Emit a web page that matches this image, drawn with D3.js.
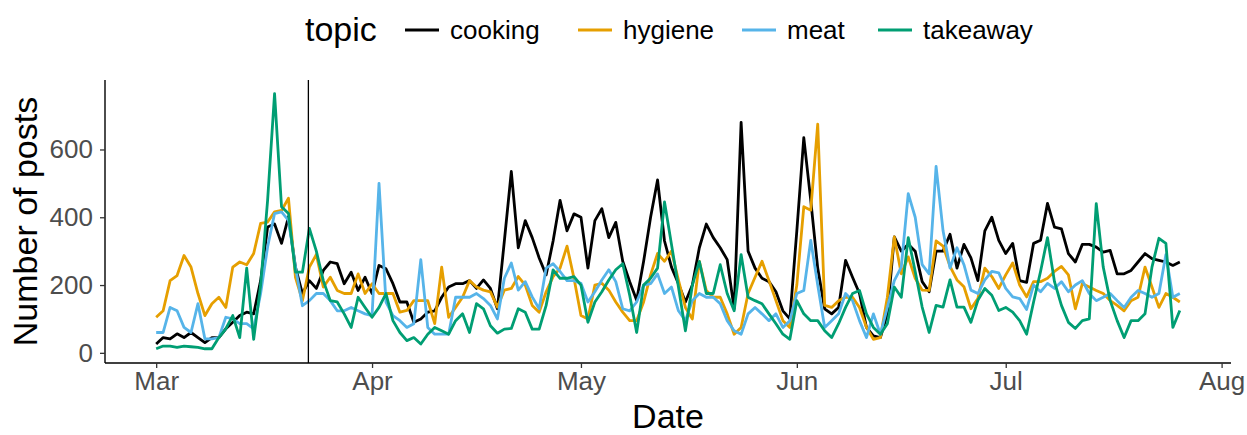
<!DOCTYPE html>
<html><head><meta charset="utf-8">
<script src="https://cdn.jsdelivr.net/npm/d3@7"></script>
<style>
html,body{margin:0;padding:0;background:#fff;}
text{font-family:"Liberation Sans",Arial,sans-serif;}
</style></head>
<body><svg id="chart" width="1247" height="435"></svg>
<script>
const startDate = "2020-03-01";
const topics = ["cooking","hygiene","meat","takeaway"];
const colors = ["#000000","#E69F00","#56B4E9","#009E73"];
const cooking = [26,45,41,56,45,60,45,30,45,45,71,90,110,120,115,213,371,380,323,401,253,175,213,190,243,268,263,204,238,184,223,175,258,248,204,150,150,90,100,120,124,164,194,204,204,213,190,215,190,130,330,535,310,390,340,280,230,330,450,360,410,400,250,390,425,340,385,270,210,155,270,400,510,330,253,204,150,200,310,380,340,310,275,130,680,300,250,220,210,180,124,100,360,635,450,250,130,115,134,273,223,175,75,50,45,115,342,300,320,300,210,180,300,300,350,250,320,280,213,360,400,332,293,323,213,208,323,332,441,371,366,293,268,320,320,312,297,302,233,233,243,268,293,278,273,268,258,268];
const hygiene = [105,124,213,228,287,253,175,110,145,164,134,253,268,260,293,382,386,416,420,456,223,154,253,290,194,223,184,175,175,233,175,204,175,175,175,120,125,154,154,154,86,253,105,134,164,213,194,185,180,135,185,190,225,200,140,120,180,225,250,315,220,110,100,200,205,185,150,120,95,95,150,230,293,270,300,215,134,100,270,184,164,164,115,55,75,175,223,270,213,154,95,75,200,431,421,675,140,134,154,164,164,134,75,40,45,164,342,233,283,220,185,184,330,315,255,215,195,130,160,250,225,190,230,265,200,165,210,210,220,240,255,230,130,204,194,184,175,154,140,124,154,164,253,194,134,175,164,150];
const meat = [60,60,134,124,75,60,145,41,41,45,105,100,86,86,71,175,312,411,416,391,253,139,154,175,175,154,124,124,134,124,115,110,500,150,110,95,75,86,275,75,55,55,55,164,164,164,175,160,140,100,220,265,185,210,165,130,250,263,240,213,213,205,150,180,215,245,210,130,124,150,200,204,233,175,194,124,95,154,175,164,164,145,95,65,55,115,134,115,95,115,75,95,175,184,332,200,75,95,115,175,154,95,45,115,55,134,213,253,470,400,260,233,550,360,250,310,260,185,175,215,240,236,190,165,160,128,200,180,205,190,210,180,200,213,175,154,164,175,154,134,164,184,175,164,175,290,164,175];
const takeaway = [12,20,20,16,20,18,16,12,12,45,71,110,45,250,40,200,450,765,431,411,238,238,367,300,213,154,150,115,75,164,134,105,134,175,95,60,36,45,26,55,75,65,55,95,115,60,145,130,80,58,70,72,130,120,70,70,140,245,220,220,225,200,90,150,180,215,245,263,170,60,200,220,250,445,320,194,65,200,270,175,175,260,175,124,290,164,154,145,115,86,55,40,154,115,95,95,65,45,86,134,175,184,115,75,55,86,194,164,340,240,135,60,140,135,215,135,135,90,155,190,170,125,134,120,95,55,150,240,340,210,140,90,72,95,100,440,253,154,95,45,95,95,115,253,338,323,75,125];
const xTickDates = ["2020-03-01","2020-04-01","2020-05-01","2020-06-01","2020-07-01","2020-08-01"];
const yTicks = [0,200,400,600];
const lockdownDate = "2020-03-23";
const yLimits = [-30, 805];

(function(){
const parse = d3.timeParse("%Y-%m-%d");
const t0 = parse(startDate);
const seriesValues = [cooking, hygiene, meat, takeaway];
const series = topics.map((name,i)=>({name, color:colors[i],
  values: seriesValues[i].map((v,j)=>({date:d3.timeDay.offset(t0,j), v}))}));
const lastDate = d3.timeDay.offset(t0, cooking.length-1);
const span = lastDate - t0;

const svg = d3.select("#chart");
const pL=105, pR=1231, pT=80, pB=363;
const x = d3.scaleTime()
  .domain([new Date(+t0 - span*0.05), new Date(+lastDate + span*0.05)])
  .range([pL,pR]);
const y = d3.scaleLinear().domain(yLimits).range([pB, pT]);

const line = d3.line().x(d=>x(d.date)).y(d=>y(d.v));
svg.append("g").selectAll("path").data(series).join("path")
  .attr("d", d=>line(d.values)).attr("fill","none")
  .attr("stroke", d=>d.color).attr("stroke-width",2.8)
  .attr("stroke-linejoin","round").attr("stroke-linecap","butt");

const lx = x(parse(lockdownDate)) - 1;
svg.append("line").attr("x1",lx).attr("x2",lx)
  .attr("y1",pT).attr("y2",pB).attr("stroke","#000").attr("stroke-width",1.3);

const xAxis = svg.append("g").attr("transform",`translate(0,${pB})`)
  .call(d3.axisBottom(x).tickValues(xTickDates.map(parse)).tickFormat(d3.timeFormat("%b")).tickSize(5).tickPadding(4));
const yAxis = svg.append("g").attr("transform",`translate(${pL},0)`)
  .call(d3.axisLeft(y).tickValues(yTicks).tickSize(5).tickPadding(7));
[xAxis,yAxis].forEach(g=>{
  g.select(".domain").attr("stroke","#000").attr("stroke-width",1.4);
  g.selectAll(".tick line").attr("stroke","#333").attr("stroke-width",1.3);
  g.selectAll(".tick text").attr("fill","#4D4D4D").style("font-size","26px");
});
yAxis.select(".domain").attr("d",`M0,${pB}V${pT}`);
xAxis.select(".domain").attr("d",`M${pL},0H${pR}`);

svg.append("text").attr("x",(pL+pR)/2).attr("y",428).attr("text-anchor","middle")
  .style("font-size","34px").attr("fill","#000").text("Date");
svg.append("text").attr("transform",`translate(37,${(pT+pB)/2}) rotate(-90)`)
  .attr("text-anchor","middle").style("font-size","34px").attr("fill","#000").text("Number of posts");

const lg = svg.append("g");
lg.append("text").attr("x",305).attr("y",41).style("font-size","34px").text("topic");
const keyX = [405, 578, 742, 878];
series.forEach((s,i)=>{
  lg.append("line").attr("x1",keyX[i]).attr("x2",keyX[i]+34).attr("y1",30).attr("y2",30)
    .attr("stroke",s.color).attr("stroke-width",2.8);
  lg.append("text").attr("x",keyX[i]+45).attr("y",39).style("font-size","26px").text(s.name);
});
})();
</script></body></html>
